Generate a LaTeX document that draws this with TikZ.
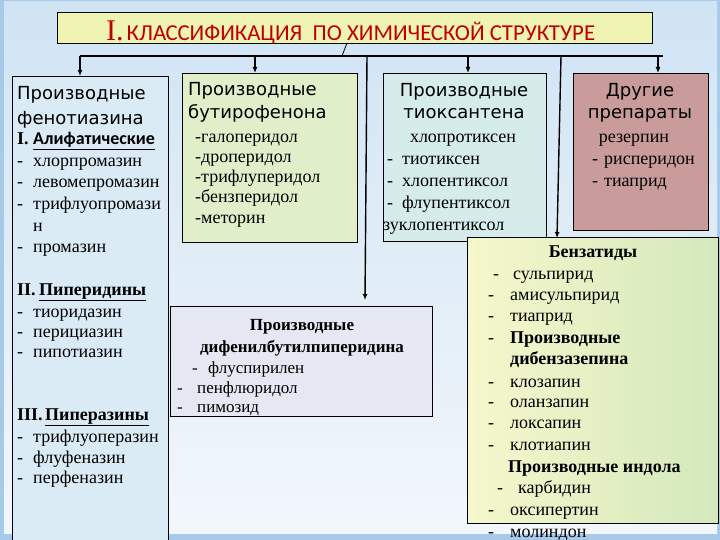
\documentclass[tikz,border=0pt]{standalone}
\usepackage{fontspec}
\setmainfont{Liberation Serif}
\newfontfamily\hsans{DejaVu Sans}
\newfontfamily\tsans{Carlito}
\usetikzlibrary{arrows.meta}
\definecolor{bgtop}{HTML}{D0E4F4}
\definecolor{bgbot}{HTML}{F2F7FB}
\definecolor{bgedge}{HTML}{A8CAEA}
\definecolor{titlefill}{HTML}{F0F4B2}
\definecolor{titlered}{HTML}{C00000}
\definecolor{phefill}{HTML}{DAEBF6}
\definecolor{butfill}{HTML}{E0EFCA}
\definecolor{thiofill}{HTML}{D5ECEA}
\definecolor{othfill}{HTML}{C99B9A}
\definecolor{dipfill}{HTML}{E5E7F2}
\definecolor{benzL}{HTML}{F6F7CC}
\definecolor{benzR}{HTML}{D3E9BC}
\newcommand\itemdash{\makebox[16pt][l]{-}}
\begin{document}
\begin{tikzpicture}[x=1pt,y=-1pt,
  box/.style={draw=black, line width=0.8pt, inner sep=0pt, anchor=north west},
  conn/.style={draw=black, line width=1.4pt, -{Latex[length=6pt,width=5pt]}},
  plain/.style={draw=black, line width=1.4pt},
  itm/.style={anchor=base west, inner sep=0pt, font=\fontsize{18}{21}\selectfont},
  itmc/.style={anchor=base, inner sep=0pt, font=\fontsize{18}{21}\selectfont},
  hd/.style={anchor=base west, inner sep=0pt, text=black, font=\hsans\fontsize{18}{20}\selectfont},
  hdc/.style={anchor=base, inner sep=0pt, text=black, font=\hsans\fontsize{18}{20}\selectfont},
  sm/.style={anchor=base west, inner sep=0pt, font=\fontsize{17}{20}\selectfont},
  smc/.style={anchor=base, inner sep=0pt, font=\fontsize{17}{20}\selectfont}]
\useasboundingbox (0,0) rectangle (720,540);
\clip (0,0) rectangle (720,540);
% background
\fill[bgedge] (0,0) rectangle (720,540);
\shade[top color=bgtop, bottom color=bgbot] (4,2) rectangle (717,533);

% title
\node[box, fill=titlefill, minimum width=595pt, minimum height=31pt] (title) at (57,12) {};
\node[anchor=base west, inner sep=0pt, text=titlered] (ttext) at (106,41)
  {{\fontsize{30}{30}\selectfont I.}\hspace{3pt}{\tsans\fontsize{22.8}{22.8}\selectfont КЛАССИФИКАЦИЯ\ \ ПО ХИМИЧЕСКОЙ СТРУКТУРЕ}};

% boxes
\node[box, fill=phefill, minimum width=156pt, minimum height=480pt] (phe) at (12,76) {};
\node[box, fill=butfill, minimum width=175pt, minimum height=169pt] (but) at (182,73) {};
\node[box, fill=thiofill, minimum width=163pt, minimum height=168pt] (thio) at (383,73) {};
\node[box, fill=othfill, minimum width=135pt, minimum height=157pt] (oth) at (573,73) {};
\node[box, fill=dipfill, minimum width=262pt, minimum height=110pt] (dip) at (170,306) {};
\node[box, left color=benzL, right color=benzR, minimum width=251pt, minimum height=286pt] (benz) at (467,237) {};

% connectors
\coordinate (tb) at (347,43);
\coordinate (hb) at (342,56);
\coordinate (hL) at (80,56);
\coordinate (hR) at (663,56);
\coordinate (h1) at (80,56);
\coordinate (h2) at (255,56);
\coordinate (h3) at (468,56);
\coordinate (h4) at (658,56);
\coordinate (h5) at (367,56);
\coordinate (h6) at (561,56);
\draw[black, line width=0.8pt] (tb) -- (hb);
\draw[plain] (hL) -- (hR);
\draw[conn] (h1) -- (h1 |- phe.north);
\draw[conn] (h2) -- (h2 |- but.north);
\draw[conn] (h3) -- (h3 |- thio.north);
\draw[conn] (h4) -- (h4 |- oth.north);
\draw[conn] (h5) -- (365,300) coordinate (d1);
\coordinate (b1) at (557,238);
\draw[conn] (h6) -- (b1);

% phenothiazine text
\node[hd] (p1) at (17,100) {Производные};
\node[hd] (p2) at (17,125) {фенотиазина};
\node[itm] (p3) at (17,145) {\makebox[16pt][l]{\bfseries I.}{\tsans\bfseries\underline{Алифатические}}};
\node[itm] (p4) at (17,167) {\itemdash хлорпромазин};
\node[itm] (p5) at (17,188) {\itemdash левомепромазин};
\node[itm] (p6) at (17,210) {\itemdash трифлуопромази};
\node[itm] (p7) at (33,231) {н};
\node[itm] (p8) at (17,252) {\itemdash промазин};
\node[itm] (p9) at (17,295) {\makebox[22pt][l]{\bfseries II.}\textbf{\underline{Пиперидины}}};
\node[itm] (p10) at (17,317) {\itemdash тиоридазин};
\node[itm] (p11) at (17,337) {\itemdash перициазин};
\node[itm] (p12) at (17,357) {\itemdash пипотиазин};
\node[itm] (p13) at (17,420) {\makebox[28pt][l]{\bfseries III.}\textbf{\underline{Пиперазины}}};
\node[itm] (p14) at (17,442) {\itemdash трифлуоперазин};
\node[itm] (p15) at (17,463) {\itemdash флуфеназин};
\node[itm] (p16) at (17,483) {\itemdash перфеназин};

% butyrophenone text
\node[hd] (u1) at (188,96) {Производные};
\node[hd] (u2) at (188,119) {бутирофенона};
\node[itm] (u3) at (195,143) {-галоперидол};
\node[itm] (u4) at (195,163) {-дроперидол};
\node[itm] (u5) at (195,183) {-трифлуперидол};
\node[itm] (u6) at (195,203) {-бензперидол};
\node[itm] (u7) at (195,224) {-меторин};

% thioxanthene text
\node[hdc] (x1) at (464,97) {Производные};
\node[hdc] (x2) at (464,119) {тиоксантена};
\node[itmc] (x3) at (463,143) {хлопротиксен};
\node[itm] (x4) at (387,165) {\makebox[15pt][l]{-}тиотиксен};
\node[itm] (x5) at (387,187) {\makebox[15pt][l]{-}хлопентиксол};
\node[itm] (x6) at (387,209) {\makebox[15pt][l]{-}флупентиксол};
\node[itm] (x7) at (383,230) {зуклопентиксол};

% other drugs text
\node[hdc] (o1) at (640,97) {Другие};
\node[hdc] (o2) at (640,119) {препараты};
\node[itmc] (o3) at (634,143) {резерпин};
\node[itm] (o4) at (592,165) {\makebox[12pt][l]{-}рисперидон};
\node[itm] (o5) at (592,187) {\makebox[12pt][l]{-}тиаприд};

% diphenylbutylpiperidine text
\node[smc] (d2) at (302,330) {\bfseries Производные};
\node[smc] (d3) at (302,352) {\bfseries дифенилбутилпиперидина};
\node[sm] (d4) at (192,373) {\makebox[16pt][l]{-}флуспирилен};
\node[sm] (d5) at (177,393) {\makebox[20pt][l]{-}пенфлюридол};
\node[sm] (d6) at (177,412) {\makebox[20pt][l]{-}пимозид};

% benzamides text
\node[itmc] (z1) at (593,257) {\bfseries Бензатиды};
\node[itm] (z2) at (493,279) {\makebox[20pt][l]{-}сульпирид};
\node[itm] (z3) at (488,300) {\makebox[22pt][l]{-}амисульпирид};
\node[itm] (z4) at (488,321) {\makebox[22pt][l]{-}тиаприд};
\node[itm] (z5) at (488,343) {\makebox[22pt][l]{-}\textbf{Производные}};
\node[itm] (z6) at (510,364) {\bfseries дибензазепина};
\node[itm] (z7) at (488,387) {\makebox[22pt][l]{-}клозапин};
\node[itm] (z8) at (488,407) {\makebox[22pt][l]{-}оланзапин};
\node[itm] (z9) at (488,428) {\makebox[22pt][l]{-}локсапин};
\node[itm] (z10) at (488,450) {\makebox[22pt][l]{-}клотиапин};
\node[itm] (z11) at (508,472) {\bfseries Производные индола};
\node[itm] (z12) at (497,493) {\makebox[21pt][l]{-}карбидин};
\node[itm] (z13) at (488,515) {\makebox[22pt][l]{-}оксипертин};
\node[itm] (z14) at (488,537) {\makebox[22pt][l]{-}молиндон};
\end{tikzpicture}
\end{document}
